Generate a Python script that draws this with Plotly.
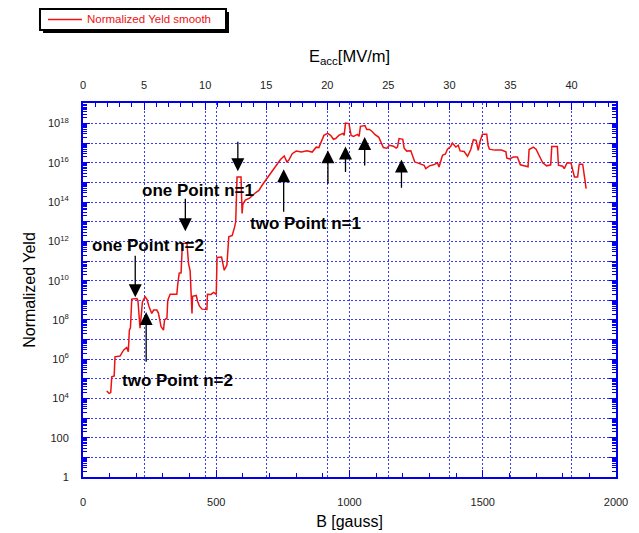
import plotly.graph_objects as go

b_gauss = [89, 98, 104, 108, 117, 120, 139, 152, 164, 170, 174, 178, 183, 202, 206, 214, 219, 223, 233, 240,
           248, 258, 265, 277, 283, 293, 302, 306, 315, 318, 327, 352, 356, 361, 368, 373, 390, 396, 402, 406,
           409, 411, 425, 430, 437, 447, 465, 467, 480, 490, 500, 503, 520, 530, 540, 547, 560, 569, 573, 578,
           593, 597, 600, 609, 625, 644, 660, 672, 690, 712, 725, 741, 755, 765, 772, 785, 800, 820, 840, 860,
           875, 885, 891, 904, 918, 929, 940, 948, 960, 975, 980, 985, 998, 1006, 1015, 1030, 1036, 1041, 1058, 1065,
           1075, 1085, 1095, 1110, 1127, 1140, 1150, 1165, 1175, 1180, 1186, 1200, 1205, 1215, 1230, 1245, 1255, 1267, 1280, 1286,
           1300, 1315, 1330, 1336, 1340, 1349, 1360, 1367, 1380, 1386, 1399, 1408, 1415, 1430, 1443, 1450, 1455, 1465, 1475, 1483,
           1490, 1499, 1515, 1520, 1525, 1545, 1570, 1587, 1590, 1600, 1615, 1630, 1641, 1655, 1670, 1674, 1690, 1700, 1710, 1718,
           1725, 1740, 1755, 1759, 1780, 1784, 1800, 1806, 1816, 1831, 1844, 1856, 1862, 1875, 1888]
yeld_log10 = [4.38, 4.26, 4.3, 5.1, 5.15, 6.12, 6.16, 6.46, 6.6, 6.38, 7.48, 7.6, 9.06, 9.09, 9.0, 7.58, 8.3, 8.92, 9.18, 9.05,
              8.67, 8.33, 8.5, 8.5, 8.35, 7.65, 7.48, 8.0, 8.09, 9.0, 9.31, 9.31, 9.87, 10.38, 10.4, 11.89, 11.92, 10.87, 10.5, 9.26,
              8.33, 9.2, 9.25, 8.95, 8.7, 8.55, 8.53, 9.31, 9.3, 9.4, 9.3, 11.18, 11.2, 10.53, 10.8, 12.23, 12.3, 12.74, 13.0, 15.28,
              15.28, 13.42, 13.9, 14.1, 14.2, 14.44, 14.6, 14.86, 15.2, 15.62, 15.9, 16.17, 16.35, 16.05, 16.13, 16.47, 16.6, 16.55, 16.62, 16.55,
              16.8, 16.78, 16.98, 17.4, 17.5, 17.4, 17.2, 17.24, 17.4, 17.5, 17.4, 18.03, 18.0, 17.4, 17.35, 17.45, 17.35, 17.86, 17.9, 17.7,
              17.7, 17.6, 17.45, 17.3, 16.78, 16.75, 16.9, 16.85, 16.75, 16.8, 17.24, 17.2, 16.75, 16.6, 16.62, 16.05, 16.0, 15.93, 15.88, 15.71,
              15.85, 15.9, 16.0, 15.79, 15.95, 16.39, 16.45, 16.68, 16.85, 17.01, 16.81, 16.9, 16.61, 16.58, 16.34, 16.55, 16.68, 17.18, 17.15, 16.64,
              17.1, 17.46, 17.46, 16.9, 16.7, 16.65, 16.65, 16.56, 16.25, 16.2, 16.3, 16.3, 15.9, 15.85, 15.8, 16.68, 16.8, 16.7, 16.4, 16.2,
              16.0, 15.85, 15.9, 16.84, 16.84, 15.88, 15.83, 15.71, 16.0, 16.0, 15.28, 15.28, 15.93, 15.93, 14.69]
yeld = [10 ** v for v in yeld_log10]

# labelled decades (every second one) and the unlabelled decades in between
y_label_decades = [0, 2, 4, 6, 8, 10, 12, 14, 16, 18]
y_ticktext = ["1", "100", "10<sup>4</sup>", "10<sup>6</sup>", "10<sup>8</sup>", "10<sup>10</sup>",
              "10<sup>12</sup>", "10<sup>14</sup>", "10<sup>16</sup>", "10<sup>18</sup>"]
y_odd_decades = [1, 3, 5, 7, 9, 11, 13, 15, 17]

b_ticks = [0, 500, 1000, 1500, 2000]
eacc_ticks = [0, 5, 10, 15, 20, 25, 30, 35, 40]
eacc_max = 43.64  # E_acc at 2000 gauss

# labels: (text, B, log10 yield)
labels = [
    ("one Point n=2", 244, 11.8),
    ("two Point n=2", 353, 4.94),
    ("one Point n=1", 431, 14.6),
    ("two Point n=1", 836, 12.93),
]
# arrows: (B, tip log10, tail log10)
arrows = [
    (196, 9.16, 11.35),
    (237, 8.40, 5.80),
    (384, 12.52, 14.25),
    (581, 15.57, 17.15),
    (753, 15.67, 13.44),
    (919, 16.64, 14.86),
    (985, 16.84, 15.46),
    (1057, 17.32, 15.79),
    (1195, 16.17, 14.66),
]

BLUE = "#0000ee"
GRID = "#3a3aff"
RED = "#ee1111"
FONT = "Liberation Sans, Arial, sans-serif"
grid_dash = "2px,2px"

fig = go.Figure()
fig.add_trace(go.Scatter(x=b_gauss, y=yeld, mode="lines", name="Normalized Yeld smooth",
                         line=dict(color=RED, width=1.5), showlegend=False))
# empty trace so the top E_acc axis and the extra grid axis get drawn
fig.add_trace(go.Scatter(x=[0, eacc_max], y=[None, None], xaxis="x2", yaxis="y2",
                         showlegend=False, hoverinfo="skip"))

annotations = []
for txt, bx, ly in labels:
    annotations.append(dict(x=bx, y=ly, xref="x", yref="y", text="<b>%s</b>" % txt, showarrow=False,
                            font=dict(family=FONT, size=17, color="black")))
for bx, tip, tail in arrows:
    annotations.append(dict(x=bx, y=tip, ax=bx, ay=tail, xref="x", yref="y", axref="x", ayref="y",
                            text="", showarrow=True, arrowhead=2, arrowsize=2.0, arrowwidth=1.3,
                            arrowcolor="black"))
# legend text (legend drawn by hand to match the boxed, shadowed original)
annotations.append(dict(x=0.0038, y=1.2233, xref="paper", yref="paper", xanchor="left", yanchor="middle",
                        text="Normalized Yeld smooth", showarrow=False,
                        font=dict(family=FONT, size=11.5, color=RED)))

legend_shapes = [
    dict(type="rect", xref="paper", yref="paper", x0=-0.0750, x1=0.2739, y0=1.1872, y1=1.2433,
         fillcolor="black", line=dict(width=0)),
    dict(type="rect", xref="paper", yref="paper", x0=-0.0807, x1=0.2683, y0=1.1952, y1=1.2513,
         fillcolor="white", line=dict(color="black", width=2)),
    dict(type="line", xref="paper", yref="paper", x0=-0.0657, x1=-0.0019, y0=1.2233, y1=1.2233,
         line=dict(color=RED, width=1.5)),
]

fig.update_layout(
    # the page body adds an 8px offset, so the figure is 8px smaller than the window
    width=631, height=525,
    margin=dict(l=75, r=23, t=95, b=56, autoexpand=False),
    paper_bgcolor="white", plot_bgcolor="white",
    font=dict(family=FONT, color="#222"),
    showlegend=False,
    annotations=annotations,
    shapes=legend_shapes,
    xaxis=dict(range=[0, 2000], tickvals=b_ticks, showline=True, linecolor=BLUE, linewidth=2,
               ticks="inside", ticklen=7, tickcolor=BLUE, tickwidth=1,
               minor=dict(ticks="inside", ticklen=4, dtick=100, tickcolor=BLUE, showgrid=False),
               showgrid=True, gridcolor=GRID, griddash=grid_dash, gridwidth=1, zeroline=False,
               tickfont=dict(size=11, color="#222"), ticklabelstandoff=14,
               title=dict(text="B [gauss]", font=dict(size=16, color="black"), standoff=9)),
    xaxis2=dict(range=[0, eacc_max], overlaying="x", side="top", anchor="y", tickvals=eacc_ticks,
                showline=True, linecolor=BLUE, linewidth=2,
                ticks="inside", ticklen=7, tickcolor=BLUE, tickwidth=1,
                minor=dict(ticks="inside", ticklen=4, dtick=1, tickcolor=BLUE, showgrid=False),
                showgrid=True, gridcolor=GRID, griddash=grid_dash, gridwidth=1, zeroline=False,
                tickfont=dict(size=11, color="#222"), ticklabelstandoff=8,
                title=dict(text="E<sub>acc</sub>[MV/m]", font=dict(size=16.5, color="black"), standoff=12)),
    yaxis=dict(type="log", range=[0, 19.05], tickvals=[10 ** k for k in y_label_decades], ticktext=y_ticktext,
               showline=True, linecolor=BLUE, linewidth=2, mirror="ticks",
               ticks="inside", ticklen=7, tickcolor=BLUE, tickwidth=1,
               minor=dict(ticks="inside", ticklen=4, dtick="D1", tickcolor=BLUE, showgrid=False),
               showgrid=True, gridcolor=GRID, griddash=grid_dash, gridwidth=1, zeroline=False,
               tickfont=dict(size=11, color="#222"), ticklabelstandoff=10,
               title=dict(text="Normalized Yeld", font=dict(size=16, color="black"), standoff=8)),
    yaxis2=dict(type="log", range=[0, 19.05], overlaying="y", side="left", anchor="x",
                tickvals=[10 ** k for k in y_odd_decades], showticklabels=False,
                ticks="inside", ticklen=7, tickcolor=BLUE, mirror="ticks", showline=False,
                showgrid=True, gridcolor=GRID, griddash=grid_dash, gridwidth=1, zeroline=False),
)

fig.write_html("out.html")
